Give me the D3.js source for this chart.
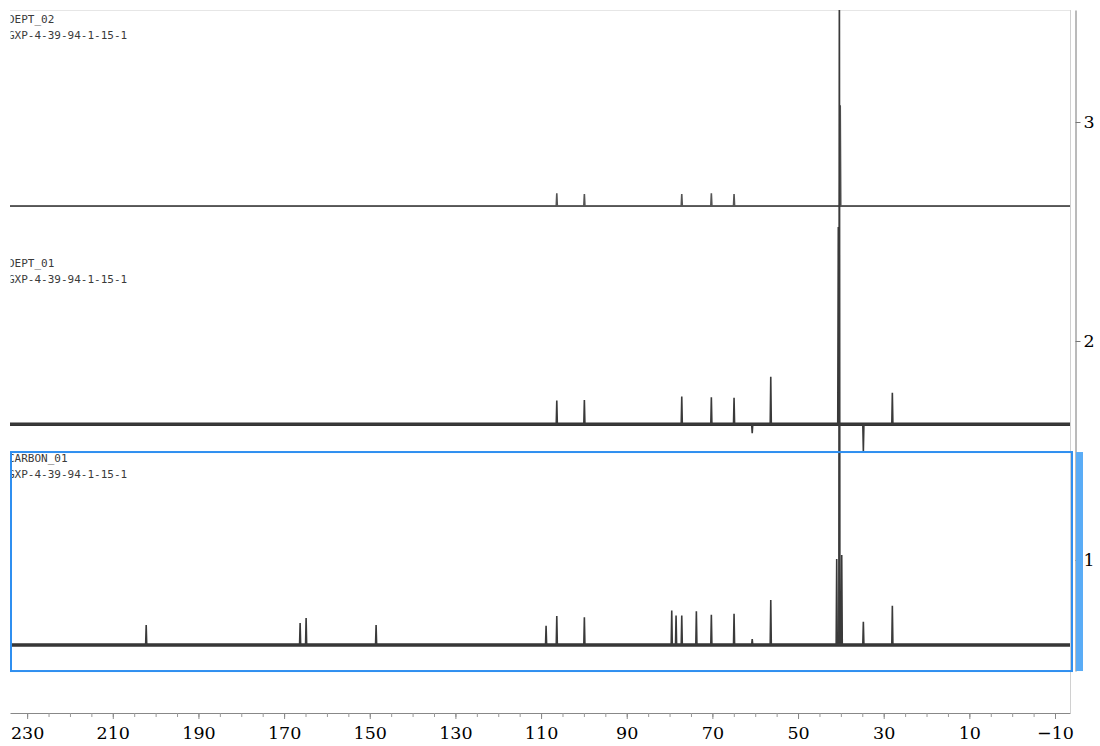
<!DOCTYPE html>
<html><head><meta charset="utf-8">
<script src="https://cdn.jsdelivr.net/npm/d3@7"></script>
<style>body{margin:0;background:#fff}svg{display:block}</style>
</head><body>
<svg id="chart" width="1100" height="746"></svg>
<script>
// ---- data ----
const spectrumNames = ["DEPT_02", "DEPT_01", "CARBON_01"];
const sampleIds = ["GXP-4-39-94-1-15-1", "GXP-4-39-94-1-15-1", "GXP-4-39-94-1-15-1"];
const baselineOffsets = [2.616, 1.620, 0.612];
const dept02Shifts  = [106.33, 99.89, 77.15, 70.24, 64.94, 40.15];
const dept02Heights = [0.059, 0.055, 0.055, 0.059, 0.055, 0.461];
const dept01Shifts  = [106.33, 99.89, 77.15, 70.24, 64.94, 60.7, 56.37, 40.6, 34.75, 27.98];
const dept01Heights = [0.108, 0.110, 0.126, 0.123, 0.121, -0.041, 0.217, 0.9, -0.125, 0.144];
const carbonShifts  = [202.2, 166.26, 164.86, 148.52, 108.83, 106.33, 99.89, 79.49, 78.48, 77.15, 73.74, 70.24, 64.94, 60.7, 56.37, 40.97, 40.35, 39.8, 34.75, 27.98];
const carbonHeights = [0.091, 0.100, 0.123, 0.091, 0.088, 0.132, 0.126, 0.157, 0.134, 0.134, 0.154, 0.138, 0.143, 0.027, 0.205, 0.393, 3.2, 0.411, 0.106, 0.179];
const xTickLabels = [230, 210, 190, 170, 150, 130, 110, 90, 70, 50, 30, 10, -10];
const xMinorTicks = d3.range(-10, 231, 5);
const yTickLabels = [1, 2, 3];
const ppmRange = [234, -13.5];
const selectedPanel = [0.493, 1.493];

// ---- layout ----
const svg = d3.select("#chart");
const plotL = 10, plotR = 1070, plotT = 10, axisY = 713;
const x = d3.scaleLinear().domain(ppmRange).range([plotL, plotR]);
const y = d3.scaleLinear().domain([1, 3]).range([560, 122]);

const defs = svg.append("defs");
defs.append("clipPath").attr("id", "plotClip")
  .append("rect").attr("x", plotL).attr("y", plotT).attr("width", plotR - plotL).attr("height", axisY - plotT);
defs.append("clipPath").attr("id", "textClip")
  .append("rect").attr("x", 10.5).attr("y", 0).attr("width", 1100).attr("height", 746);

// frame lines
svg.append("line").attr("x1", plotL).attr("x2", plotR).attr("y1", plotT + 0.5).attr("y2", plotT + 0.5)
  .attr("stroke", "#e6e6e6").attr("stroke-width", 1);
svg.append("line").attr("x1", plotR + 0.5).attr("x2", plotR + 0.5).attr("y1", plotT).attr("y2", axisY)
  .attr("stroke", "#d0d0d0").attr("stroke-width", 1);

const spectra = [
  {shifts: dept02Shifts, heights: dept02Heights, base: baselineOffsets[0], baseW: 1.8, baseC: "#606060", peakC: "#555"},
  {shifts: dept01Shifts, heights: dept01Heights, base: baselineOffsets[1], baseW: 3.4, baseC: "#333", peakC: "#3a3a3a"},
  {shifts: carbonShifts, heights: carbonHeights, base: baselineOffsets[2], baseW: 3.4, baseC: "#333", peakC: "#3a3a3a"}
];

const plot = svg.append("g").attr("clip-path", "url(#plotClip)");
const line = d3.line().x(d => x(d[0])).y(d => y(d[1]));
const hw = 0.13;

spectra.forEach(s => {
  plot.append("path")
    .attr("d", line([[ppmRange[0], s.base], [ppmRange[1], s.base]]))
    .attr("stroke", s.baseC).attr("stroke-width", s.baseW).attr("fill", "none");
  const idx = d3.range(s.shifts.length).sort((a, b) => s.shifts[b] - s.shifts[a]);
  const pts = [[ppmRange[0], s.base]];
  idx.forEach(i => {
    const p = s.shifts[i], h = s.heights[i];
    pts.push([p + hw, s.base], [p, s.base + h], [p - hw, s.base]);
  });
  pts.push([ppmRange[1], s.base]);
  plot.append("path").attr("d", line(pts))
    .attr("stroke", s.peakC).attr("stroke-width", 1.6).attr("fill", "none")
    .attr("stroke-linejoin", "miter");
});

// labels
const labelBase = [23, 267, 462];
const tg = svg.append("g").attr("clip-path", "url(#textClip)")
  .attr("font-family", "'DejaVu Sans Mono', monospace").attr("font-size", 11).attr("fill", "#3a3a3a");
spectrumNames.forEach((n, i) => {
  tg.append("text").attr("x", 8).attr("y", labelBase[i]).text(n);
  tg.append("text").attr("x", 8).attr("y", labelBase[i] + 16).text(sampleIds[i]);
});

// selected panel rectangle
svg.append("rect")
  .attr("x", plotL + 1).attr("y", y(selectedPanel[1]))
  .attr("width", plotR + 2 - plotL - 1).attr("height", y(selectedPanel[0]) - y(selectedPanel[1]))
  .attr("fill", "none").attr("stroke", "#2f8ff0").attr("stroke-width", 2);

// right axis
const yAx = y.copy().domain([y.invert(671), y.invert(plotT)]).range([671, plotT]);
const ra = svg.append("g").attr("transform", "translate(1075.5,0)")
  .call(d3.axisRight(yAx).tickValues(yTickLabels).tickSize(5).tickSizeOuter(0).tickPadding(3).tickFormat(d3.format("d")));
ra.select(".domain").attr("stroke", "#777");
ra.selectAll(".tick line").attr("stroke", "#777");
ra.selectAll("text").attr("font-family", "'DejaVu Serif', serif").attr("font-size", 17.5).attr("fill", "#000");

// selection bar
svg.append("rect").attr("x", 1076).attr("y", y(selectedPanel[1])).attr("width", 7)
  .attr("height", y(selectedPanel[0]) - y(selectedPanel[1])).attr("fill", "#5aacf6");

// bottom axis
const bm = svg.append("g").attr("transform", `translate(0,${axisY})`)
  .call(d3.axisBottom(x).tickValues(xMinorTicks).tickSize(4).tickSizeOuter(0).tickFormat(""));
bm.select(".domain").attr("stroke", "#888");
bm.selectAll(".tick line").attr("stroke", "#999");
const bx = svg.append("g").attr("transform", `translate(0,${axisY})`)
  .call(d3.axisBottom(x).tickValues(xTickLabels).tickSize(6).tickSizeOuter(0).tickPadding(8));
bx.select(".domain").remove();
bx.selectAll(".tick line").attr("stroke", "#888");
bx.selectAll("text").attr("font-family", "'DejaVu Serif', serif").attr("font-size", 17.5).attr("fill", "#000");
</script>
</body></html>
